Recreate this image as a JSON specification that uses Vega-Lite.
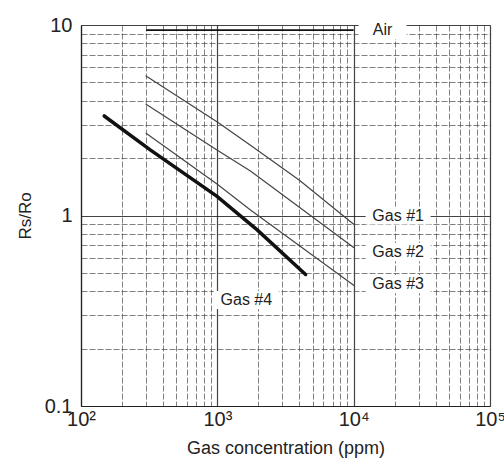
{
  "$schema": "https://vega.github.io/schema/vega-lite/v6.json",
  "width": 409,
  "height": 381,
  "autosize": "none",
  "padding": {"left": 81, "top": 25, "right": 14, "bottom": 65},
  "background": "white",
  "config": {
    "view": {"stroke": null},
    "font": "Liberation Sans"
  },
  "datasets": {
    "curves": [
      {"series": "Air", "x": 300, "y": 9.4},
      {"series": "Air", "x": 10000, "y": 9.4},
      {"series": "Gas #1", "x": 300, "y": 5.4},
      {"series": "Gas #1", "x": 1000, "y": 3.1},
      {"series": "Gas #1", "x": 1750, "y": 2.34},
      {"series": "Gas #1", "x": 4000, "y": 1.53},
      {"series": "Gas #1", "x": 10000, "y": 0.9},
      {"series": "Gas #2", "x": 300, "y": 3.84},
      {"series": "Gas #2", "x": 1000, "y": 2.2},
      {"series": "Gas #2", "x": 1750, "y": 1.71},
      {"series": "Gas #2", "x": 10000, "y": 0.68},
      {"series": "Gas #3", "x": 300, "y": 2.7},
      {"series": "Gas #3", "x": 1000, "y": 1.46},
      {"series": "Gas #3", "x": 1750, "y": 1.07},
      {"series": "Gas #3", "x": 10000, "y": 0.43},
      {"series": "Gas #4", "x": 148, "y": 3.33},
      {"series": "Gas #4", "x": 322, "y": 2.21},
      {"series": "Gas #4", "x": 995, "y": 1.26},
      {"series": "Gas #4", "x": 1960, "y": 0.84},
      {"series": "Gas #4", "x": 4440, "y": 0.49}
    ],
    "labels": [
      {"label": "Air", "x": 16300, "y": 9.4},
      {"label": "Gas #1", "x": 21200, "y": 1.0},
      {"label": "Gas #2", "x": 21200, "y": 0.643},
      {"label": "Gas #3", "x": 21200, "y": 0.436},
      {"label": "Gas #4", "x": 1633, "y": 0.36}
    ]
  },
  "encoding": {
    "x": {
      "field": "x",
      "type": "quantitative",
      "scale": {"type": "log", "domain": [100, 100000], "nice": false},
      "axis": {
        "title": "Gas concentration (ppm)",
        "titleFontSize": 18,
        "titleFontWeight": "normal",
        "titleColor": "#222",
        "titlePadding": 10,
        "values": [100, 200, 300, 400, 500, 600, 700, 800, 900, 1000, 2000, 3000, 4000, 5000, 6000, 7000, 8000, 9000, 10000, 20000, 30000, 40000, 50000, 60000, 70000, 80000, 90000, 100000],
        "labelExpr": "datum.value == 100 ? '10²' : datum.value == 1000 ? '10³' : datum.value == 10000 ? '10⁴' : datum.value == 100000 ? '10⁵' : ''",
        "labelFontSize": 20,
        "labelColor": "#222",
        "labelPadding": 3,
        "labelOverlap": false,
        "labelFlush": false,
        "labelBound": false,
        "ticks": false,
        "domainColor": "#222",
        "domainWidth": 1.2,
        "grid": true,
        "gridColor": {"condition": {"test": "indexof([100,1000,10000,100000], datum.value) >= 0", "value": "#222"}, "value": "#444"},
        "gridWidth": {"condition": {"test": "indexof([100,1000,10000,100000], datum.value) >= 0", "value": 1.2}, "value": 0.8},
        "gridDash": {"condition": {"test": "indexof([100,1000,10000,100000], datum.value) >= 0", "value": []}, "value": [6, 2]},
        "gridOpacity": 0.85
      }
    },
    "y": {
      "field": "y",
      "type": "quantitative",
      "scale": {"type": "log", "domain": [0.1, 10], "nice": false},
      "axis": {
        "title": "Rs/Ro",
        "titleFontSize": 17,
        "titleFontWeight": "normal",
        "titleColor": "#222",
        "titlePadding": 10,
        "values": [0.1, 0.2, 0.3, 0.4, 0.5, 0.6, 0.7, 0.8, 0.9, 1, 2, 3, 4, 5, 6, 7, 8, 9, 10],
        "labelExpr": "datum.value == 0.1 ? '0.1' : datum.value == 1 ? '1' : datum.value == 10 ? '10' : ''",
        "labelFontSize": 20,
        "labelColor": "#222",
        "labelPadding": 9,
        "labelOverlap": false,
        "ticks": false,
        "domainColor": "#222",
        "domainWidth": 1.2,
        "grid": true,
        "gridColor": {"condition": {"test": "indexof([0.1,1,10], datum.value) >= 0", "value": "#222"}, "value": "#444"},
        "gridWidth": {"condition": {"test": "indexof([0.1,1,10], datum.value) >= 0", "value": 1.2}, "value": 0.8},
        "gridDash": {"condition": {"test": "indexof([0.1,1,10], datum.value) >= 0", "value": []}, "value": [6, 2]},
        "gridOpacity": 0.85
      }
    }
  },
  "layer": [
    {
      "data": {"name": "curves"},
      "transform": [{"filter": "datum.series == 'Gas #1' || datum.series == 'Gas #2' || datum.series == 'Gas #3'"}],
      "mark": {"type": "line", "strokeCap": "round", "color": "#444", "strokeWidth": 1.2},
      "encoding": {"detail": {"field": "series"}}
    },
    {
      "data": {"name": "curves"},
      "transform": [{"filter": "datum.series == 'Air'"}],
      "mark": {"type": "line", "color": "#111", "strokeWidth": 1.8},
      "encoding": {"detail": {"field": "series"}}
    },
    {
      "data": {"name": "curves"},
      "transform": [{"filter": "datum.series == 'Gas #4'"}],
      "mark": {"type": "line", "strokeCap": "round", "color": "#111", "strokeWidth": 3.5},
      "encoding": {"detail": {"field": "series"}}
    },
    {
      "data": {"name": "labels"},
      "transform": [{"filter": "datum.label == 'Air'"}],
      "mark": {"type": "point", "shape": "M-1,-0.375H1V0.375H-1Z", "size": 2304, "filled": true, "color": "white", "opacity": 1}
    },
    {
      "data": {"name": "labels"},
      "transform": [{"filter": "datum.label != 'Air'"}],
      "mark": {"type": "point", "shape": "M-1,-0.28H1V0.28H-1Z", "size": 4225, "filled": true, "color": "white", "opacity": 1}
    },
    {
      "data": {"name": "labels"},
      "mark": {"type": "text", "fontSize": 16, "color": "#222", "align": "center", "baseline": "middle"},
      "encoding": {"text": {"field": "label"}}
    }
  ]
}
